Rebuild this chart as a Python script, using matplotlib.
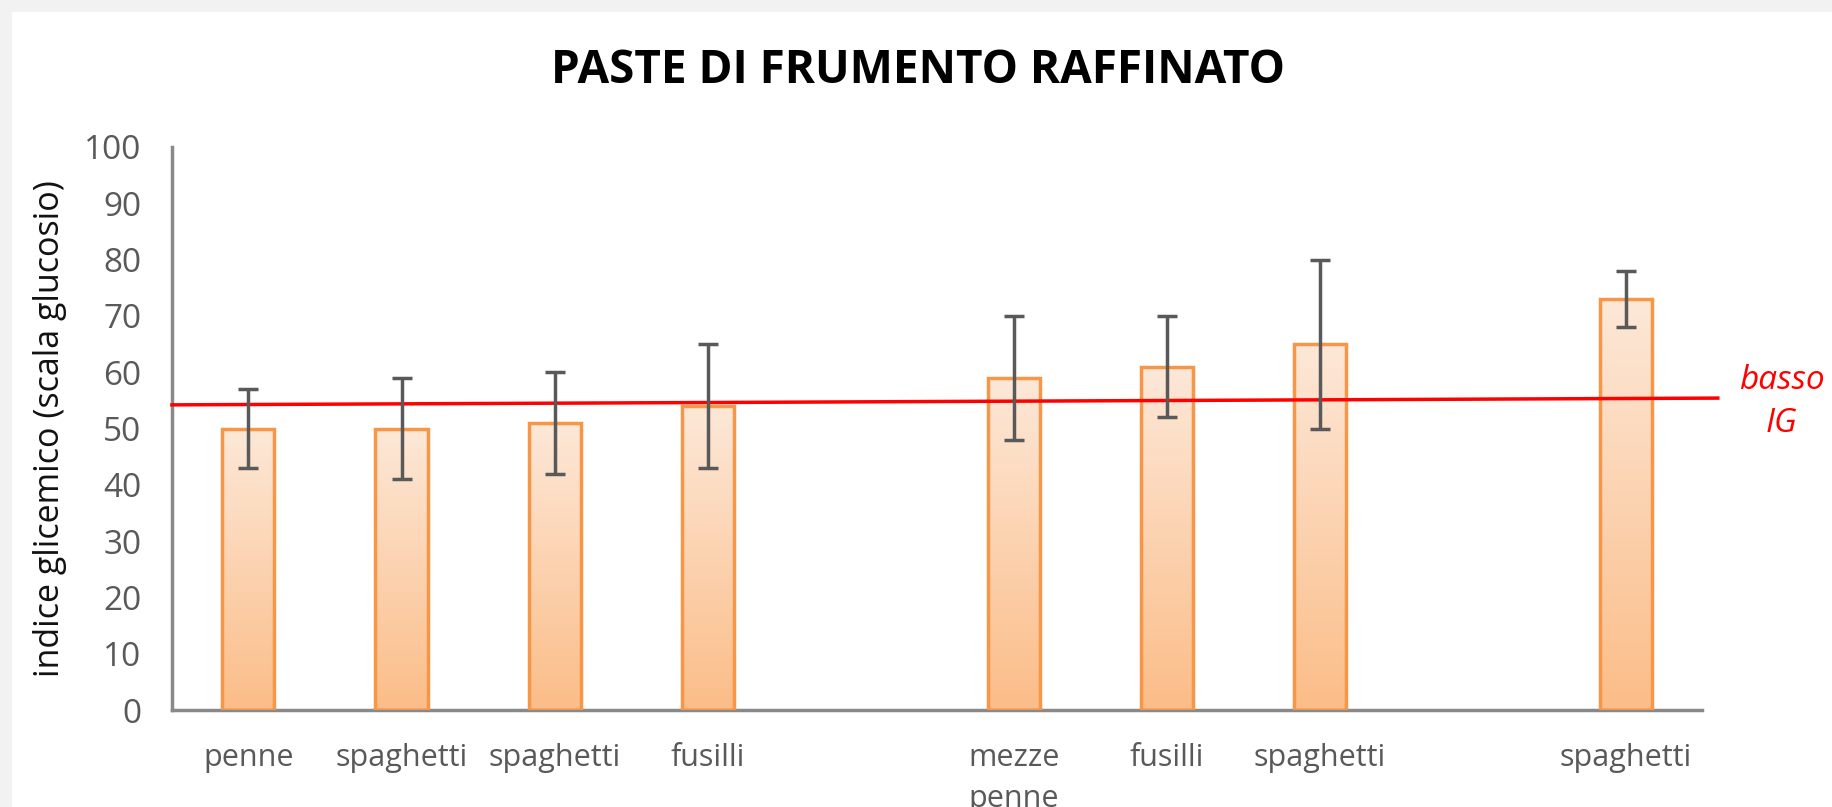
import numpy as np
import matplotlib
matplotlib.use("Agg")
import matplotlib.pyplot as plt
from matplotlib.patches import Rectangle
from matplotlib.colors import LinearSegmentedColormap

plt.rcParams['font.family'] = ['Open Sans', 'DejaVu Sans']

# categories (empty slots are gaps in the original chart)
labels = ["penne", "spaghetti", "spaghetti", "fusilli", "",
          "mezze\npenne", "fusilli", "spaghetti", "", "spaghetti"]
values = [50, 50, 51, 54, None, 59, 61, 65, None, 73]
err_low = [43, 41, 42, 43, None, 48, 52, 50, None, 68]
err_high = [57, 59, 60, 65, None, 70, 70, 80, None, 78]

# threshold line "basso IG" (slightly tilted in the original)
soglia_start = 54.2
soglia_end = 55.4

fig = plt.figure(figsize=(18.33, 8.07), dpi=100)
fig.patch.set_facecolor("#f2f2f2")
# white card on top of the grey frame
card = Rectangle((12 / 1833, 0), 1, 1 - 12 / 807, transform=fig.transFigure,
                 facecolor="white", edgecolor="none", zorder=-10)
fig.add_artist(card)

ax = fig.add_axes([0.0938, 0.120, 0.835, 0.698])
ax.set_facecolor("none")
ax.set_zorder(1)

cmap = LinearSegmentedColormap.from_list("arancio", ["#fbbd88", "#fde8d8"])
grad = np.linspace(0, 1, 256).reshape(-1, 1)
width = 0.34

x = np.arange(len(labels))
for i, v in enumerate(values):
    if v is None:
        continue
    ax.imshow(grad, cmap=cmap, origin="lower", aspect="auto",
              extent=[i - width / 2, i + width / 2, 0, v], zorder=2)
    ax.add_patch(Rectangle((i - width / 2, 0), width, v, facecolor="none",
                           edgecolor="#f79646", linewidth=2.5, zorder=3))

# red threshold line
ax.plot([-0.5, 9.6], [soglia_start, soglia_end], color="#ff0000",
        linewidth=2.5, zorder=4, clip_on=False)

# error bars
for i, v in enumerate(values):
    if v is None:
        continue
    ax.errorbar(i, v, yerr=[[v - err_low[i]], [err_high[i] - v]], fmt="none",
                ecolor="#595959", elinewidth=2.5, capsize=7, capthick=2.5,
                zorder=5)

ax.set_xlim(-0.5, 9.5)
ax.set_ylim(0, 100)
ax.set_yticks(range(0, 101, 10))
ax.set_xticks(x)
ax.set_xticklabels(labels, linespacing=1.45)
ax.tick_params(axis="both", length=0, colors="#595959")
ax.tick_params(axis="x", pad=24, labelsize=22)
ax.tick_params(axis="y", pad=22, labelsize=24)
for s in ["top", "right"]:
    ax.spines[s].set_visible(False)
for s in ["left", "bottom"]:
    ax.spines[s].set_color("#898989")
    ax.spines[s].set_linewidth(2.5)

ax.set_ylabel("indice glicemico (scala glucosio)", fontsize=24.5,
              color="#111111", labelpad=12)

fig.text(0.501, 0.913, "PASTE DI FRUMENTO RAFFINATO", ha="center",
         va="center", fontsize=33, fontweight="bold", color="black")

fig.text(0.972, 0.502, "basso\nIG", ha="center", va="center", fontsize=24,
         style="italic", color="#ff0000", linespacing=1.4)

fig.savefig("out.png", dpi=100, facecolor=fig.get_facecolor())
